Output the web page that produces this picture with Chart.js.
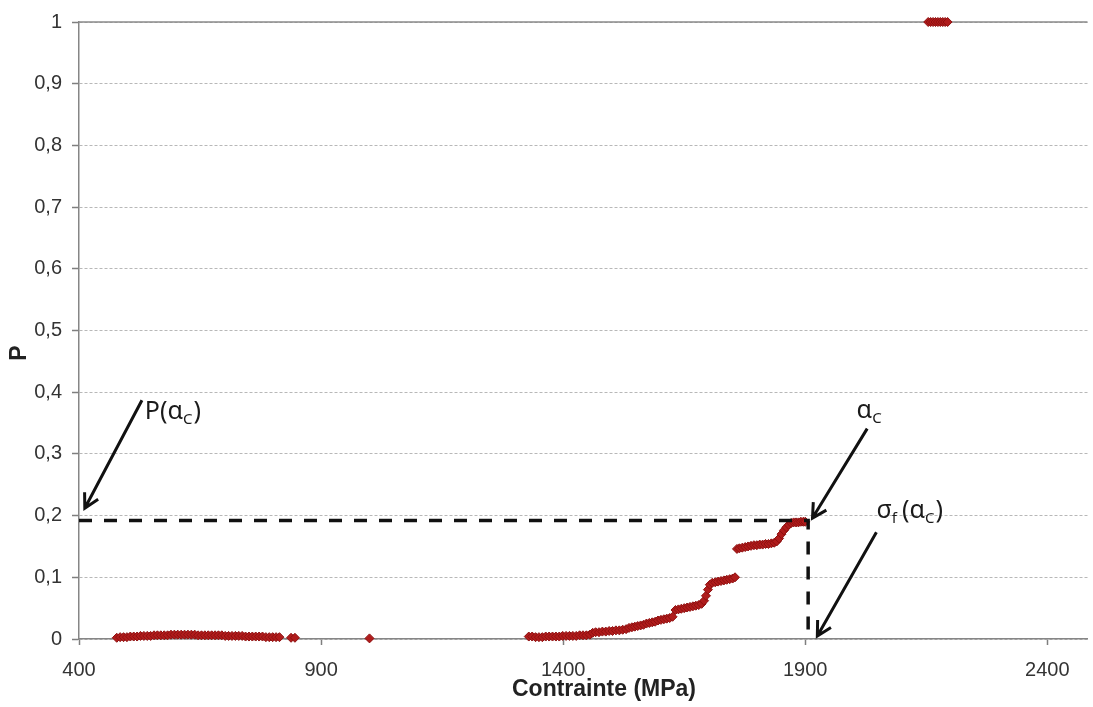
<!DOCTYPE html>
<html>
<head>
<meta charset="utf-8">
<script src="https://cdn.jsdelivr.net/npm/chart.js@4.4.1/dist/chart.umd.min.js"></script>
<style>
  html, body { margin: 0; padding: 0; background: #fff; }
  #wrap { width: 1093px; height: 707px; }
</style>
</head>
<body>
<div id="wrap"><canvas id="probChart" width="1093" height="707"></canvas></div>
<script>
// ===== DATA =====
// low stress cluster
const stressLow = [478, 485, 492, 499, 506, 513, 520, 527, 534, 541, 548, 555, 562, 569, 576, 583, 590, 597, 604, 611,
    618, 625, 632, 639, 646, 653, 660, 667, 674, 681, 688, 695, 702, 709, 716, 723, 730, 737, 744, 751,
    758, 765, 772, 779, 786, 793, 800, 807, 814, 838, 846];
const probLow = [0.002, 0.003, 0.003, 0.003, 0.004, 0.004, 0.004, 0.005, 0.005, 0.005, 0.005, 0.006, 0.006, 0.006, 0.006, 0.006, 0.007, 0.007, 0.007, 0.007,
    0.007, 0.007, 0.007, 0.007, 0.006, 0.006, 0.006, 0.006, 0.006, 0.006, 0.006, 0.006, 0.005, 0.005, 0.005, 0.005, 0.005, 0.005, 0.004, 0.004,
    0.004, 0.004, 0.004, 0.004, 0.003, 0.003, 0.003, 0.003, 0.003, 0.002, 0.002];

// isolated point
const stressMid = [1000];
const probMid = [0.001];

// high stress cluster
const stressHigh = [1329, 1336, 1343, 1350, 1357, 1364, 1371, 1378, 1385, 1392,
    1399, 1406, 1413, 1420, 1427, 1434, 1441, 1448, 1455, 1461,
    1467, 1474, 1481, 1488, 1495, 1502, 1509, 1516, 1523, 1530,
    1536, 1542, 1548, 1554, 1560, 1566, 1572, 1578, 1584, 1590,
    1596, 1602, 1608, 1614, 1620, 1626, 1632, 1638, 1644, 1650,
    1656, 1662, 1668, 1674, 1680, 1686, 1691, 1695, 1699, 1703,
    1708, 1714, 1720, 1726, 1732, 1738, 1744, 1750, 1755, 1759,
    1764, 1770, 1776, 1782, 1788, 1794, 1800, 1806, 1812, 1818,
    1824, 1830, 1836, 1841, 1846, 1851, 1856, 1861, 1866, 1871,
    1876, 1881, 1886, 1891, 1896, 1900];
const probHigh = [0.004, 0.004, 0.003, 0.003, 0.003, 0.004, 0.004, 0.004, 0.004, 0.004,
    0.005, 0.005, 0.005, 0.005, 0.005, 0.006, 0.006, 0.006, 0.007, 0.010,
    0.011, 0.011, 0.012, 0.012, 0.013, 0.013, 0.014, 0.014, 0.015, 0.016,
    0.018, 0.019, 0.020, 0.021, 0.022, 0.023, 0.025, 0.026, 0.027, 0.028,
    0.030, 0.031, 0.032, 0.033, 0.034, 0.036, 0.047, 0.048, 0.049, 0.050,
    0.051, 0.052, 0.053, 0.054, 0.055, 0.057, 0.062, 0.070, 0.080, 0.088,
    0.091, 0.092, 0.093, 0.094, 0.095, 0.096, 0.097, 0.098, 0.100, 0.146,
    0.147, 0.148, 0.149, 0.150, 0.151, 0.152, 0.152, 0.153, 0.153, 0.154,
    0.154, 0.155, 0.156, 0.158, 0.163, 0.170, 0.176, 0.181, 0.185, 0.188,
    0.189, 0.189, 0.189, 0.190, 0.190, 0.190];

// points at P = 1
const stressTop = [2154, 2159, 2164, 2169, 2174, 2179, 2184, 2189, 2194];
const probTop = [1, 1, 1, 1, 1, 1, 1, 1, 1];

// axis ticks
const xTickValues = [400, 900, 1400, 1900, 2400];
const yTickValues = [0, 0.1, 0.2, 0.3, 0.4, 0.5, 0.6, 0.7, 0.8, 0.9, 1];
const yTickLabels = ['0', '0,1', '0,2', '0,3', '0,4', '0,5', '0,6', '0,7', '0,8', '0,9', '1'];

// critical point
const alphaC = 1906;
const pAlphaC = 0.192;

// ===== HELPERS =====
function toPoints(xs, ys) {
    return xs.map((x, i) => ({ x: x, y: ys[i] }));
}

function drawArrow(ctx, x1, y1, x2, y2) {
    const ang = Math.atan2(y2 - y1, x2 - x1);
    const head = 16;
    ctx.beginPath();
    ctx.moveTo(x1, y1);
    ctx.lineTo(x2, y2);
    ctx.moveTo(x2 - head * Math.cos(ang - 0.5), y2 - head * Math.sin(ang - 0.5));
    ctx.lineTo(x2, y2);
    ctx.lineTo(x2 - head * Math.cos(ang + 0.5), y2 - head * Math.sin(ang + 0.5));
    ctx.stroke();
}

// text with subscripts, parts = [[text, isSub, extraGap], ...]
function drawRich(ctx, parts, x, y) {
    let cx = x;
    parts.forEach(p => {
        ctx.font = p[1] ? '15px "Noto Sans"' : '25px "Noto Sans"';
        ctx.fillText(p[0], cx, p[1] ? y + 5 : y);
        cx += ctx.measureText(p[0]).width + (p[2] || 0);
    });
}

// ===== ANNOTATION PLUGIN =====
const annotations = {
    id: 'annotations',
    afterDraw(chart) {
        const ctx = chart.ctx;
        const xs = chart.scales.x;
        const ys = chart.scales.y;
        const px = v => xs.getPixelForValue(v);
        const py = v => ys.getPixelForValue(v);

        ctx.save();
        // arrows
        ctx.strokeStyle = '#111';
        ctx.lineWidth = 3;
        ctx.lineCap = 'butt';
        drawArrow(ctx, px(530), py(0.387), px(412), py(0.212));
        drawArrow(ctx, px(2028), py(0.341), px(1915), py(0.196));
        drawArrow(ctx, px(2047), py(0.173), px(1925), py(0.005));

        // labels
        ctx.fillStyle = '#1a1a1a';
        ctx.textBaseline = 'alphabetic';
        ctx.textAlign = 'left';
        drawRich(ctx, [['P(', false], ['\u03b1', false], ['C', true, 1], [')', false]], px(536), py(0.356));
        drawRich(ctx, [['\u03b1', false], ['C', true]], px(2006), py(0.358));
        drawRich(ctx, [['\u03c3', false], ['f', true, 5], ['(', false], ['\u03b1', false], ['C', true, 1], [')', false]], px(2047), py(0.196));

        // axis titles
        ctx.fillStyle = '#222';
        ctx.font = 'bold 23px "Liberation Sans", Arial, sans-serif';
        ctx.textAlign = 'center';
        ctx.textBaseline = 'middle';
        ctx.fillText('Contrainte (MPa)', 604, 690);
        ctx.translate(20, 353);
        ctx.rotate(-Math.PI / 2);
        ctx.fillText('P', 0, 0);
        ctx.restore();
    },
    beforeDatasetsDraw(chart) {
        // plot area top border
        const ctx = chart.ctx;
        const area = chart.chartArea;
        ctx.save();
        ctx.strokeStyle = '#8a8a8a';
        ctx.lineWidth = 1.5;
        ctx.beginPath();
        ctx.moveTo(area.left, area.top);
        ctx.lineTo(area.right, area.top);
        ctx.stroke();
        ctx.restore();
    }
};

// ===== CHART =====
function createChart() {
    const canvas = document.getElementById('probChart');
    const ctx = canvas.getContext('2d');

    const redPoints = toPoints(stressLow, probLow)
        .concat(toPoints(stressMid, probMid))
        .concat(toPoints(stressHigh, probHigh))
        .concat(toPoints(stressTop, probTop));

    new Chart(ctx, {
        type: 'scatter',
        data: {
            datasets: [{
                // dashed guide lines
                data: [{ x: 400, y: pAlphaC }, { x: alphaC, y: pAlphaC }, { x: alphaC, y: 0 }],
                showLine: true,
                borderColor: '#111',
                borderWidth: 3.5,
                borderDash: [13, 12],
                pointRadius: 0,
                fill: false
            }, {
                data: redPoints,
                pointStyle: 'rectRot',
                pointRadius: 4.5,
                backgroundColor: '#b01c1c',
                borderColor: '#8e1010',
                borderWidth: 1,
                clip: false
            }]
        },
        options: {
            responsive: false,
            animation: false,
            layout: { padding: { top: 21, right: 0, left: 0, bottom: 0 } },
            plugins: {
                legend: { display: false },
                tooltip: { enabled: false }
            },
            scales: {
                x: {
                    type: 'linear',
                    min: 400,
                    max: 2483,
                    afterBuildTicks: scale => { scale.ticks = xTickValues.map(v => ({ value: v })); },
                    afterFit: scale => { scale.height = 68; },
                    grid: {
                        drawOnChartArea: false,
                        tickLength: 6,
                        tickColor: '#7f7f7f',
                        tickWidth: 1.5
                    },
                    border: { color: '#868686', width: 1.5 },
                    ticks: {
                        padding: 13,
                        color: '#333',
                        font: { family: '"Liberation Sans", Arial, sans-serif', size: 20 },
                        maxRotation: 0,
                        callback: value => String(value)
                    }
                },
                y: {
                    min: 0,
                    max: 1,
                    afterBuildTicks: scale => { scale.ticks = yTickValues.map(v => ({ value: v })); },
                    afterFit: scale => { scale.width = 79; },
                    grid: {
                        color: '#b8b8b8',
                        lineWidth: 1,
                        tickLength: 7,
                        tickColor: '#7f7f7f',
                        tickWidth: 1.5,
                        tickBorderDash: []
                    },
                    border: { color: '#868686', width: 1.5, dash: [3, 2] },
                    ticks: {
                        padding: 10,
                        color: '#333',
                        font: { family: '"Liberation Sans", Arial, sans-serif', size: 20 },
                        callback: (value, index) => yTickLabels[index]
                    }
                }
            }
        },
        plugins: [annotations]
    });
}

document.addEventListener('DOMContentLoaded', function() {
    createChart();
});
</script>
</body>
</html>
